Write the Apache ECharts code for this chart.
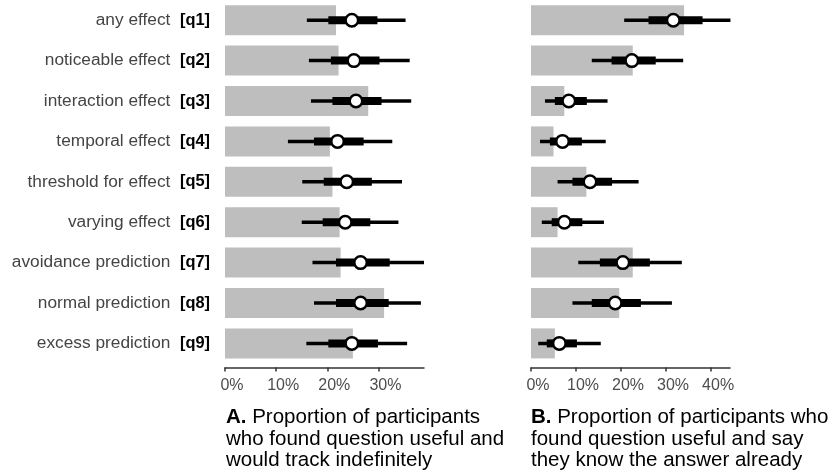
<!DOCTYPE html>
<html>
<head>
<meta charset="utf-8">
<script src="https://cdn.jsdelivr.net/npm/echarts@6/dist/echarts.min.js"></script>
<style>
  html, body { margin: 0; padding: 0; background: #fff; }
  #chart { width: 829px; height: 473px; }
</style>
</head>
<body>
<div id="chart"></div>
<script>
// question labels (top to bottom)
var labels = ['any effect', 'noticeable effect', 'interaction effect', 'temporal effect',
  'threshold for effect', 'varying effect', 'avoidance prediction', 'normal prediction', 'excess prediction'];
var codes = ['q1', 'q2', 'q3', 'q4', 'q5', 'q6', 'q7', 'q8', 'q9'];
var ticksA = [0, 10, 20, 30];
var ticksB = [0, 10, 20, 30, 40];

// A. useful and would track indefinitely (%)
var barA = [21.7, 22.2, 28.0, 20.5, 21.0, 22.4, 22.6, 31.1, 25.0];
var pointA = [24.8, 25.2, 25.6, 22.0, 23.8, 23.5, 26.5, 26.5, 24.8];
var lo95A = [16.0, 16.4, 16.8, 12.3, 15.1, 15.0, 17.1, 17.4, 15.9];
var hi95A = [35.3, 36.1, 36.4, 32.7, 34.6, 33.9, 38.9, 38.3, 35.6];
var lo66A = [20.2, 20.7, 21.0, 17.4, 19.3, 19.1, 21.7, 21.7, 20.2];
var hi66A = [29.8, 30.2, 30.6, 27.1, 28.7, 28.4, 32.2, 32.0, 29.9];

// B. useful and know the answer already (%)
var barB = [34.0, 22.6, 7.4, 5.0, 12.3, 5.9, 22.6, 19.6, 5.3];
var pointB = [31.6, 22.4, 8.4, 7.0, 13.1, 7.4, 20.4, 18.7, 6.3];
var lo95B = [20.7, 13.5, 3.1, 2.0, 5.9, 2.4, 10.5, 9.2, 1.6];
var hi95B = [44.3, 33.8, 17.0, 16.6, 23.9, 16.2, 33.5, 31.3, 15.5];
var lo66B = [26.1, 17.9, 5.3, 4.2, 9.2, 4.6, 15.3, 13.5, 3.5];
var hi66B = [38.1, 27.7, 12.4, 11.3, 18.0, 11.4, 26.4, 24.4, 10.2];

var font = 'Liberation Sans, Arial, Helvetica, sans-serif';
var chart = echarts.init(document.getElementById('chart'));

function intervalData(lo95, hi95, lo66, hi66) {
  return labels.map(function (l, i) { return [i, lo95[i], hi95[i], lo66[i], hi66[i]]; });
}
function pointData(p) {
  return p.map(function (v, i) { return [v, i]; });
}
function renderInterval(params, api) {
  var y = api.value(0);
  var a = api.coord([api.value(1), y]);
  var b = api.coord([api.value(2), y]);
  var c = api.coord([api.value(3), y]);
  var d = api.coord([api.value(4), y]);
  return {
    type: 'group',
    children: [
      { type: 'line', shape: { x1: a[0], y1: a[1], x2: b[0], y2: b[1] },
        style: { stroke: '#000', lineWidth: 3.5, lineCap: 'butt' } },
      { type: 'line', shape: { x1: c[0], y1: c[1], x2: d[0], y2: d[1] },
        style: { stroke: '#000', lineWidth: 8, lineCap: 'butt' } }
    ]
  };
}

function xAxisFor(idx, max, tickVals) {
  return {
    type: 'value', gridIndex: idx, min: 0, max: max, offset: 4,
    splitLine: { show: false },
    axisLine: { show: true, lineStyle: { color: '#333', width: 1.5 } },
    axisTick: { show: true, length: 4, customValues: tickVals, lineStyle: { color: '#333', width: 1.5 } },
    axisLabel: { customValues: tickVals, formatter: '{value}%', margin: 10, padding: [0, 0, 0, 14],
      color: '#4d4d4d', fontSize: 16, fontFamily: font }
  };
}

var capStyle = { fontSize: 20.5, fontWeight: 'normal', color: '#000', fontFamily: font, lineHeight: 21.3,
  rich: { b: { fontWeight: 'bold', fontSize: 20.5, color: '#000', fontFamily: font, lineHeight: 21.3 } } };

chart.setOption({
  animation: false,
  title: [
    { text: '{b|A.} Proportion of participants\nwho found question useful and\nwould track indefinitely',
      left: 226, top: 407, padding: 0, textStyle: capStyle },
    { text: '{b|B.} Proportion of participants who\nfound question useful and say\nthey know the answer already',
      left: 531, top: 407, padding: 0, textStyle: capStyle }
  ],
  grid: [
    { left: 225, top: 0, width: 199, height: 363.6 },
    { left: 531, top: 0, width: 199, height: 363.6 }
  ],
  xAxis: [
    xAxisFor(0, 38.9, ticksA),
    xAxisFor(1, 44.2, ticksB)
  ],
  yAxis: [
    { type: 'category', gridIndex: 0, data: labels, inverse: true,
      axisLine: { show: false }, axisTick: { show: false },
      axisLabel: { margin: 15, color: '#444', fontSize: 17.3, fontFamily: font,
        formatter: function (v, i) { return '{n|' + v + '}  {q|[' + codes[i] + ']}'; },
        rich: { n: { color: '#444', fontSize: 17.3, fontFamily: font },
          q: { color: '#000', fontSize: 16.4, fontWeight: 'bold', fontFamily: font } } } },
    { type: 'category', gridIndex: 1, data: labels, inverse: true,
      axisLine: { show: false }, axisTick: { show: false }, axisLabel: { show: false } }
  ],
  series: [
    { type: 'bar', xAxisIndex: 0, yAxisIndex: 0, data: barA, barWidth: 30,
      itemStyle: { color: '#bebebe' }, z: 1 },
    { type: 'custom', xAxisIndex: 0, yAxisIndex: 0, renderItem: renderInterval, clip: false,
      encode: { x: [1, 2, 3, 4], y: 0 }, data: intervalData(lo95A, hi95A, lo66A, hi66A), z: 2 },
    { type: 'scatter', xAxisIndex: 0, yAxisIndex: 0, data: pointData(pointA), symbolSize: 12.5,
      itemStyle: { color: '#fff', borderColor: '#000', borderWidth: 2.5, opacity: 1 }, z: 3 },

    { type: 'bar', xAxisIndex: 1, yAxisIndex: 1, data: barB, barWidth: 30,
      itemStyle: { color: '#bebebe' }, z: 1 },
    { type: 'custom', xAxisIndex: 1, yAxisIndex: 1, renderItem: renderInterval, clip: false,
      encode: { x: [1, 2, 3, 4], y: 0 }, data: intervalData(lo95B, hi95B, lo66B, hi66B), z: 2 },
    { type: 'scatter', xAxisIndex: 1, yAxisIndex: 1, data: pointData(pointB), symbolSize: 12.5,
      itemStyle: { color: '#fff', borderColor: '#000', borderWidth: 2.5, opacity: 1 }, z: 3 }
  ]
});
</script>
</body>
</html>
